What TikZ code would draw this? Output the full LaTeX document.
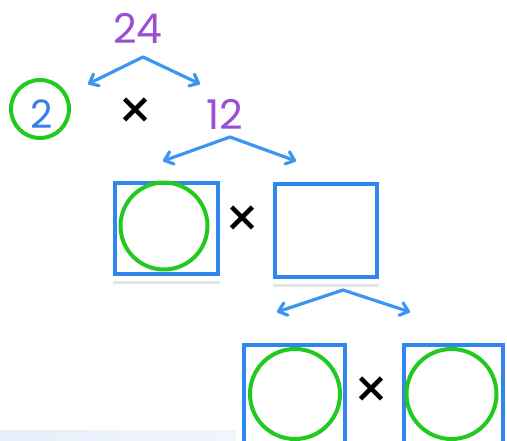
\documentclass[tikz,border=0pt]{standalone}
\usepackage{fontspec}
\setmainfont{Poppins}
\usetikzlibrary{arrows.meta}
\definecolor{arr}{HTML}{3A96F0}
\definecolor{boxc}{HTML}{2F86EE}
\definecolor{grn}{HTML}{22C91E}
\definecolor{pur}{HTML}{9A4FD3}
\definecolor{two}{HTML}{3A7FE6}
\definecolor{haze}{HTML}{E8EFFB}
\begin{document}
\begin{tikzpicture}[x=1pt,y=-1pt,
  br/.style={draw=arr,line width=3.2pt,line cap=round,line join=round,-{Straight Barb[angle=80:10pt,round]}},
  num/.style={text=pur,font=\fontsize{41}{41}\selectfont,inner sep=0pt},
  tms/.style={text=black,font=\fontsize{56}{56}\selectfont,inner sep=0pt},
  bx/.style={draw=boxc,line width=3.5pt,rectangle,inner sep=0pt},
  gc/.style={draw=grn,line width=4pt,circle,inner sep=0pt},
  shd/.style={draw=gray!20,line width=3pt}]
\useasboundingbox (0,0) rectangle (507,441);
\shade[left color=haze,right color=haze!60] (0,430) rectangle (236,441);
% level 1
\node[num] (n24) at (138,28) {24};
\coordinate (a1) at (143,57);
\coordinate (l1) at (88,84);
\coordinate (r1) at (200,84);
\draw[br] (a1) -- (l1);
\draw[br] (a1) -- (r1);
\node[gc,minimum size=58pt] (c2) at (40,109) {};
\node[text=two,font=\fontsize{39}{39}\selectfont,inner sep=0pt] (t2) at (42,114) {2};
\node[tms] (x1) at (136,114) {×};
\node[num] (n12) at (225,114) {12};
% level 2
\coordinate (a2) at (230,137);
\coordinate (l2) at (163,161);
\coordinate (r2) at (296,161);
\draw[br] (a2) -- (l2);
\draw[br] (a2) -- (r2);
\node[bx,minimum width=103pt,minimum height=91pt] (b1) at (166.5,228.5) {};
\node[gc,minimum size=87pt] (c1) at (164,226) {};
\node[tms] (x2) at (243,222) {×};
\node[bx,minimum width=102pt,minimum height=93pt] (b2) at (326,230.5) {};
\draw[shd] ([yshift=-7pt]b1.south west) -- ([yshift=-7pt]b1.south east);
\draw[shd] ([yshift=-7pt]b2.south west) -- ([yshift=-7pt]b2.south east);
% level 3
\coordinate (a3) at (343,290);
\coordinate (l3) at (277,312);
\coordinate (r3) at (410,312);
\draw[br] (a3) -- (l3);
\draw[br] (a3) -- (r3);
\node[bx,minimum width=101pt,minimum height=100pt] (b3) at (294.5,395) {};
\node[gc,minimum size=90pt] (c3) at (295,394) {};
\node[tms] (x3) at (372,393) {×};
\node[bx,minimum width=99pt,minimum height=100pt] (b4) at (453.5,395) {};
\node[gc,minimum size=90pt] (c4) at (451.5,394) {};
\end{tikzpicture}
\end{document}
